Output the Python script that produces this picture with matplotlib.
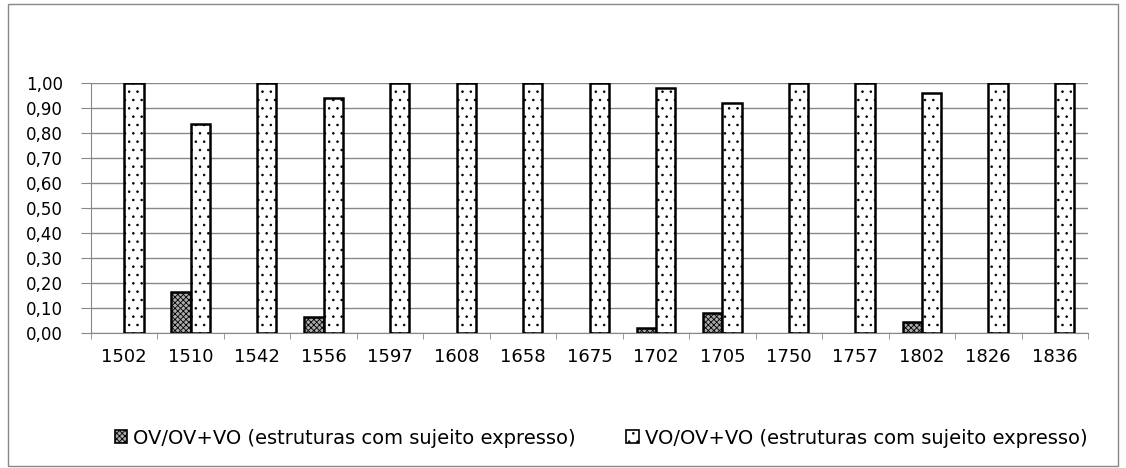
import matplotlib.pyplot as plt
import numpy as np
from matplotlib.patches import Rectangle, Patch

years = ["1502", "1510", "1542", "1556", "1597", "1608", "1658", "1675",
         "1702", "1705", "1750", "1757", "1802", "1826", "1836"]
ov = [0.0, 0.165, 0.0, 0.065, 0.0, 0.0, 0.0, 0.0, 0.02, 0.08, 0.0, 0.0, 0.045, 0.0, 0.0]
vo = [1.0, 0.835, 1.0, 0.94, 1.0, 1.0, 1.0, 1.0, 0.98, 0.92, 1.0, 1.0, 0.96, 1.0, 1.0]
ov_label = "OV/OV+VO (estruturas com sujeito expresso)"
vo_label = "VO/OV+VO (estruturas com sujeito expresso)"
yticks = [i / 10 for i in range(11)]

plt.rcParams['font.family'] = ['DejaVu Sans']
plt.rcParams['hatch.linewidth'] = 0.6
fig = plt.figure(figsize=(11.26, 4.68), dpi=100)
ax = fig.add_axes([91 / 1126, 1 - 333 / 468, 997 / 1126, 250 / 468])

x = np.arange(len(years))
w = 0.29
ov_edges = ['black' if v > 0 else 'none' for v in ov]
ax.bar(x - w / 2, ov, w, color='#aaaaaa', edgecolor=ov_edges, linewidth=1.8,
       hatch='xxxxxx', zorder=3)
ax.bar(x + w / 2, vo, w, color='white', edgecolor='black', linewidth=1.8,
       hatch='..', zorder=3)

ax.set_xlim(-0.5, len(years) - 0.5)
ax.set_ylim(0, 1.0)
ax.set_yticks(yticks)
ax.set_yticklabels([f"{v:.2f}".replace('.', ',') for v in yticks], fontsize=12)
ax.set_xticks(x)
ax.set_xticklabels(years, fontsize=13)
ax.set_xticks(np.arange(-0.5, len(years)), minor=True)
ax.tick_params(axis='x', which='major', length=0, pad=11)
ax.tick_params(axis='x', which='minor', length=4.5, color='#888888')
ax.tick_params(axis='y', length=7, color='#888888', pad=13)
ax.grid(axis='y', color='#888888', linewidth=1, zorder=0)
for s in ['top', 'right']:
    ax.spines[s].set_visible(False)
for s in ['left', 'bottom']:
    ax.spines[s].set_color('#888888')

handles = [Patch(facecolor='#aaaaaa', edgecolor='black', hatch='xxxxxx', linewidth=1.2),
           Patch(facecolor='white', edgecolor='black', hatch='..', linewidth=1.2)]
fig.legend(handles, [ov_label, vo_label], loc='center',
           bbox_to_anchor=(601 / 1126, 1 - 438 / 468), ncol=2,
           frameon=False, fontsize=14,
           handlelength=0.65, handleheight=0.65,
           columnspacing=2.6, handletextpad=0.3)

fig.patches.append(Rectangle((8 / 1126, 2 / 468), 1110 / 1126, 462 / 468,
                             transform=fig.transFigure, fill=False,
                             edgecolor='#888888', linewidth=1))
fig.savefig('out.png', dpi=100)
